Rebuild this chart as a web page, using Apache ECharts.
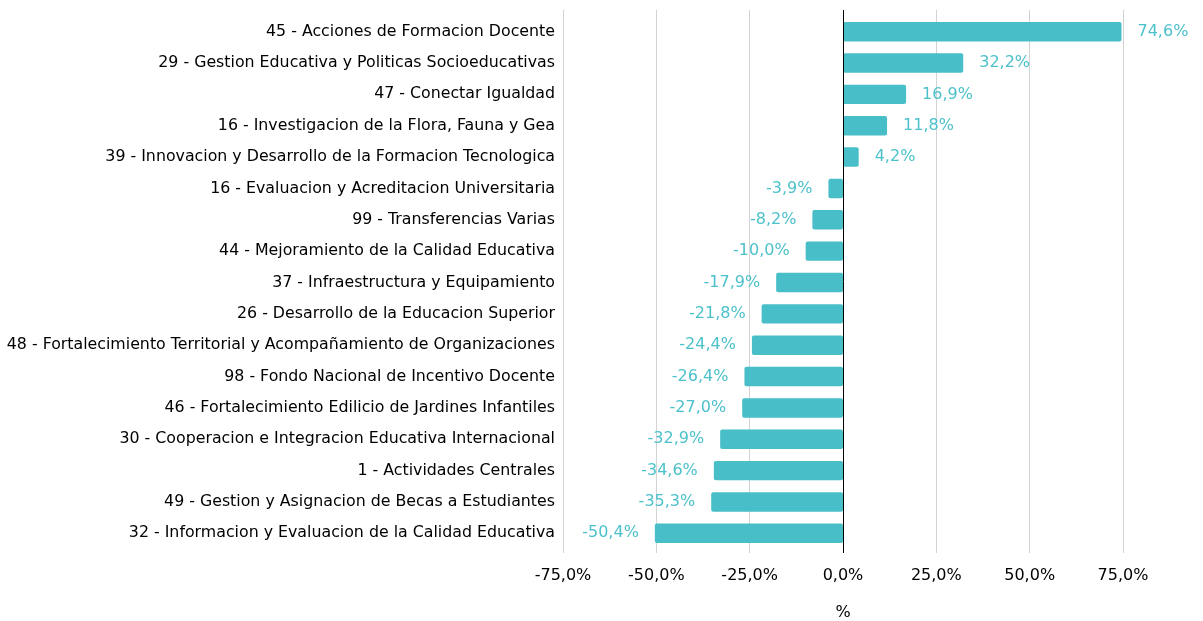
<!DOCTYPE html>
<html><head><meta charset="utf-8">
<script src="https://cdn.jsdelivr.net/npm/echarts@6/dist/echarts.min.js"></script>
<style>html,body{margin:0;padding:0;background:#fff;overflow:hidden}#c{width:1203px;height:621px}</style>
</head><body><div id="c"></div>
<script>
const categories = [
  "45 - Acciones de Formacion Docente",
  "29 - Gestion Educativa y Politicas Socioeducativas",
  "47 - Conectar Igualdad",
  "16 - Investigacion de la Flora, Fauna y Gea",
  "39 - Innovacion y Desarrollo de la Formacion Tecnologica",
  "16 - Evaluacion y Acreditacion Universitaria",
  "99 - Transferencias Varias",
  "44 - Mejoramiento de la Calidad Educativa",
  "37 - Infraestructura y Equipamiento",
  "26 - Desarrollo de la Educacion Superior",
  "48 - Fortalecimiento Territorial y Acompañamiento de Organizaciones",
  "98 - Fondo Nacional de Incentivo Docente",
  "46 - Fortalecimiento Edilicio de Jardines Infantiles",
  "30 - Cooperacion e Integracion Educativa Internacional",
  "1 - Actividades Centrales",
  "49 - Gestion y Asignacion de Becas a Estudiantes",
  "32 - Informacion y Evaluacion de la Calidad Educativa"
];
const values = [74.6, 32.2, 16.9, 11.8, 4.2, -3.9, -8.2, -10.0, -17.9, -21.8, -24.4, -26.4, -27.0, -32.9, -34.6, -35.3, -50.4];
const xTicks = [-75, -50, -25, 0, 25, 50, 75];

const fmt = v => v.toFixed(1).replace('.', ',') + '%';
const FONT = 'DejaVu Sans';
const XMIN = xTicks[0], XMAX = xTicks[xTicks.length - 1];
const chart = echarts.init(document.getElementById('c'), null, { width: 1203, height: 621 });
chart.setOption({
  animation: false,
  textStyle: { fontFamily: FONT },
  grid: [
    { left: 563, width: 560, top: 10, height: 543, containLabel: false, outerBoundsMode: 'none' },
    { left: 563, width: 560, top: 16, height: 533, containLabel: false, outerBoundsMode: 'none' }
  ],
  xAxis: [{
    gridIndex: 0, type: 'value', min: XMIN, max: XMAX, interval: 25,
    name: '%', nameLocation: 'middle', nameGap: 52,
    nameTextStyle: { color: '#000', fontSize: 16, fontFamily: FONT },
    axisLine: { show: false }, axisTick: { show: false },
    axisLabel: { color: '#000', fontSize: 16, margin: 15, fontFamily: FONT, formatter: fmt },
    splitLine: { show: true, lineStyle: { color: '#d3d3d3', width: 1 } }
  }, {
    gridIndex: 1, type: 'value', min: XMIN, max: XMAX, interval: 25, show: false,
    splitLine: { show: false }
  }],
  yAxis: [{
    gridIndex: 0, type: 'value', min: 0, max: 1, show: false, splitLine: { show: false }
  }, {
    gridIndex: 1, type: 'category', data: categories, inverse: true,
    axisLine: { show: false }, axisTick: { show: false },
    axisLabel: { color: '#000', fontSize: 15.8, margin: 8, fontFamily: FONT }
  }],
  series: [{
    type: 'line', xAxisIndex: 0, yAxisIndex: 0, data: [], silent: true,
    markLine: {
      silent: true, symbol: 'none', label: { show: false },
      lineStyle: { color: '#000', width: 1, type: 'solid' },
      data: [{ xAxis: 0 }]
    }
  }, {
    type: 'bar', xAxisIndex: 1, yAxisIndex: 1,
    data: values.map(v => ({
      value: v,
      label: { position: v >= 0 ? 'right' : 'left' }
    })),
    barCategoryGap: '38%', z: 3,
    itemStyle: { color: '#48BEC8', borderRadius: 2 },
    label: { show: true, color: '#4DC1CB', fontSize: 16, distance: 16, fontFamily: FONT, formatter: p => fmt(p.value) }
  }]
});
</script></body></html>
